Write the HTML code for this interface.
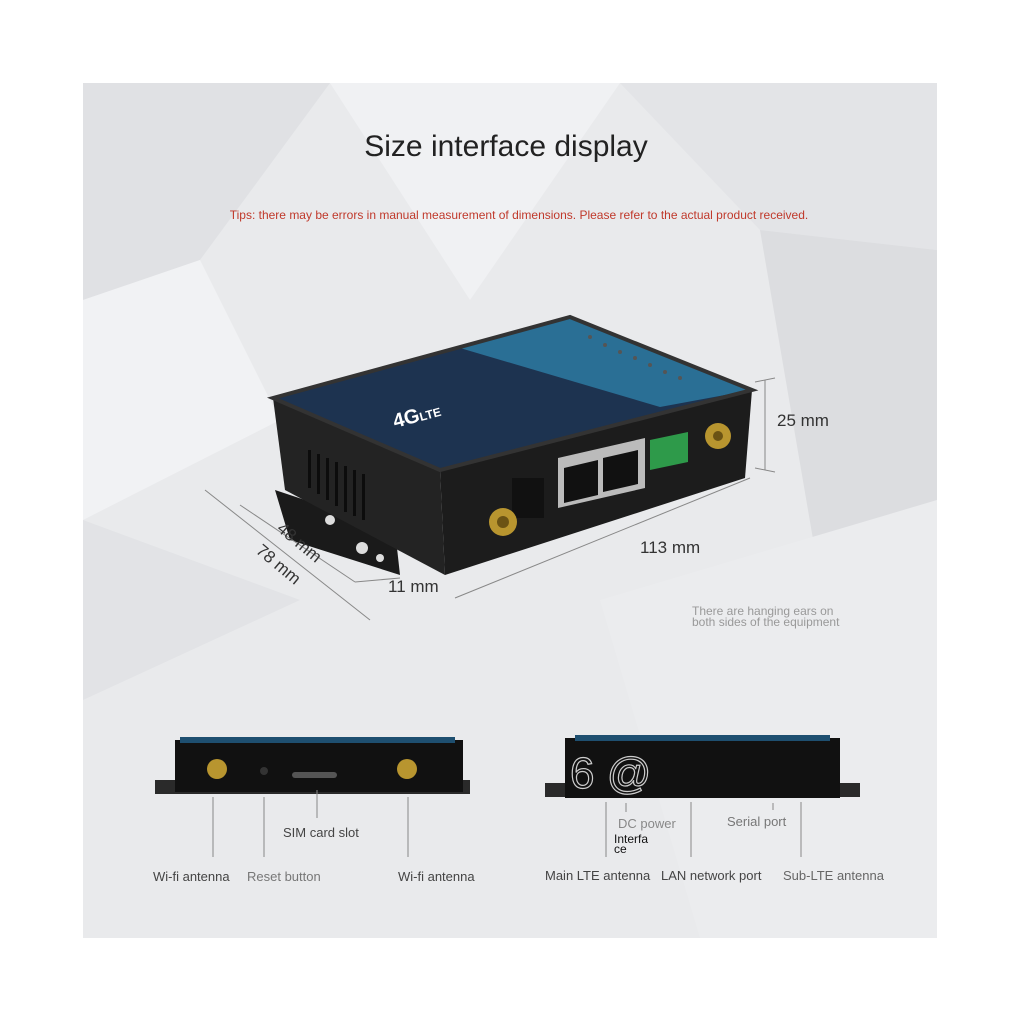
<!DOCTYPE html>
<html><head><style>
body{margin:0;width:1024px;height:1024px;background:#fff;overflow:hidden;font-family:"Liberation Sans",sans-serif}
</style></head><body>
<svg width="1024" height="1024" xmlns="http://www.w3.org/2000/svg" style="position:absolute;left:0;top:0">
<rect x="83" y="83" width="854" height="855" fill="#e9eaec"/>
<polygon points="83,83 330,83 200,260 83,300" fill="#e0e1e4"/>
<polygon points="330,83 620,83 470,300" fill="#f0f1f3"/>
<polygon points="620,83 937,83 937,250 760,230" fill="#e3e4e7"/>
<polygon points="83,300 200,260 280,420 83,520" fill="#f1f2f4"/>
<polygon points="760,230 937,250 937,500 820,580" fill="#dcdde0"/>
<polygon points="600,600 937,500 937,938 700,938" fill="#ebecee"/>
<polygon points="83,520 300,600 83,700" fill="#e2e3e6"/>
<text x="506" y="156" font-size="30" text-anchor="middle" fill="#222">Size interface display</text>
<text x="519" y="219" font-size="12" text-anchor="middle" fill="#c0392b">Tips: there may be errors in manual measurement of dimensions. Please refer to the actual product received.</text>
<!-- router -->
<polygon points="275,490 395,530 400,575 290,540" fill="#1a1a1a"/>
<circle cx="330" cy="520" r="5" fill="#ddd"/><circle cx="362" cy="548" r="6" fill="#ddd"/><circle cx="380" cy="558" r="4" fill="#ddd"/>
<polygon points="273,398 440,470 445,575 285,490" fill="#232323"/>
<polygon points="440,470 752,390 745,478 445,575" fill="#1c1c1c"/>
<polygon points="273,398 570,317 752,390 440,470" fill="#1d3350"/>
<polygon points="460,348 570,317 752,390 660,407" fill="#2a6f95"/>
<polygon points="273,398 570,317 752,390 440,470" fill="none" stroke="#333" stroke-width="4"/>
<text x="395" y="428" font-size="20" font-weight="bold" fill="#fff" transform="rotate(-15 395 428)">4G<tspan font-size="12">LTE</tspan></text>
<g fill="#555"><circle cx="590" cy="337" r="2"/><circle cx="605" cy="345" r="2"/><circle cx="620" cy="352" r="2"/><circle cx="635" cy="358" r="2"/><circle cx="650" cy="365" r="2"/><circle cx="665" cy="372" r="2"/><circle cx="680" cy="378" r="2"/></g>
<g fill="#0c0c0c"><rect x="308" y="450" width="3" height="38"/><rect x="317" y="454" width="3" height="40"/><rect x="326" y="458" width="3" height="42"/><rect x="335" y="462" width="3" height="44"/><rect x="344" y="466" width="3" height="46"/><rect x="353" y="470" width="3" height="46"/><rect x="362" y="474" width="3" height="46"/></g>
<polygon points="558,458 645,438 645,488 558,508" fill="#bbb"/>
<polygon points="564,468 598,460 598,495 564,503" fill="#111"/><polygon points="603,458 638,450 638,484 603,492" fill="#111"/>
<polygon points="650,440 688,432 688,462 650,470" fill="#2e9a4a"/>
<rect x="512" y="478" width="32" height="40" fill="#111"/>
<circle cx="503" cy="522" r="14" fill="#b8952f"/><circle cx="503" cy="522" r="6" fill="#6b5314"/>
<circle cx="718" cy="436" r="13" fill="#b8952f"/><circle cx="718" cy="436" r="5" fill="#6b5314"/>
<!-- dimension lines -->
<g stroke="#888" stroke-width="1" fill="none">
<line x1="765" y1="380" x2="765" y2="470"/><line x1="755" y1="382" x2="775" y2="378"/><line x1="755" y1="468" x2="775" y2="472"/>
<line x1="455" y1="598" x2="750" y2="478"/>
<line x1="205" y1="490" x2="370" y2="620"/><line x1="240" y1="505" x2="355" y2="582"/>
<line x1="355" y1="582" x2="400" y2="578"/>
</g>
<text x="777" y="426" font-size="17" fill="#333">25 mm</text>
<text x="640" y="553" font-size="17" fill="#333">113 mm</text>
<text x="388" y="592" font-size="17" fill="#333">11 mm</text>
<text x="276" y="530" font-size="17" fill="#333" transform="rotate(40 276 530)">48 mm</text>
<text x="255" y="552" font-size="17" fill="#333" transform="rotate(40 255 552)">78 mm</text>
<text x="692" y="615" font-size="12" fill="#999">There are hanging ears on</text>
<text x="692" y="626" font-size="12" fill="#999">both sides of the equipment</text>
<!-- bottom left view -->
<rect x="155" y="780" width="315" height="14" fill="#2a2a2a"/>
<rect x="175" y="740" width="288" height="52" fill="#111"/>
<rect x="180" y="737" width="275" height="6" fill="#1e4f70"/>
<circle cx="217" cy="769" r="10" fill="#b8952f"/><circle cx="407" cy="769" r="10" fill="#b8952f"/>
<circle cx="264" cy="771" r="4" fill="#333"/>
<rect x="292" y="772" width="45" height="6" rx="3" fill="#555"/>
<g stroke="#888"><line x1="213" y1="797" x2="213" y2="857"/><line x1="264" y1="797" x2="264" y2="857"/><line x1="317" y1="790" x2="317" y2="818"/><line x1="408" y1="797" x2="408" y2="857"/></g>
<g font-size="13" fill="#444"><text x="153" y="881">Wi-fi antenna</text><text x="247" y="881" fill="#777">Reset button</text><text x="283" y="837">SIM card slot</text><text x="398" y="881">Wi-fi antenna</text></g>
<!-- bottom right view -->
<rect x="545" y="783" width="315" height="14" fill="#2a2a2a"/>
<rect x="565" y="738" width="275" height="60" fill="#111"/>
<rect x="575" y="735" width="255" height="6" fill="#1e4f70"/>
<text x="570" y="788" font-size="44" fill="#111" stroke="#ccc" stroke-width="1.2">6 @</text>
<g stroke="#888"><line x1="606" y1="802" x2="606" y2="857"/><line x1="626" y1="803" x2="626" y2="812"/><line x1="691" y1="802" x2="691" y2="857"/><line x1="773" y1="803" x2="773" y2="810"/><line x1="801" y1="802" x2="801" y2="857"/></g>
<g font-size="13" fill="#444"><text x="618" y="828" fill="#888">DC power</text><text x="614" y="843" font-size="12" fill="#111">Interfa</text><text x="614" y="853" font-size="12" fill="#111">ce</text>
<text x="727" y="826" fill="#777">Serial port</text>
<text x="545" y="880">Main LTE antenna</text><text x="661" y="880">LAN network port</text><text x="783" y="880" fill="#666">Sub-LTE antenna</text></g>
</svg>
</body></html>
